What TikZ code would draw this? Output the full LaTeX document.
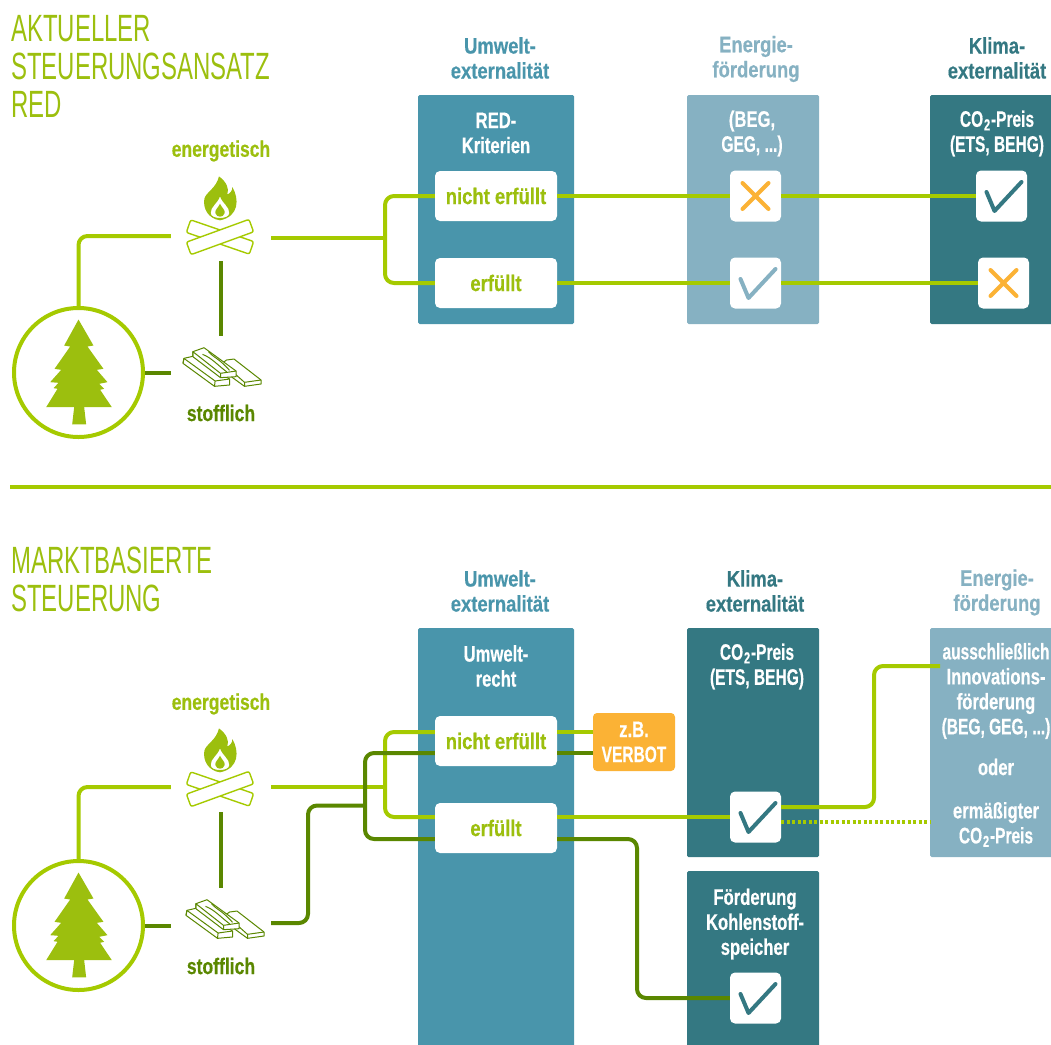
\documentclass[tikz,border=0pt]{standalone}
\usepackage{fontspec}
\setmainfont{Liberation Sans}[FakeStretch=0.82,BoldFeatures={FakeStretch=0.82,FakeBold=0.4}]
\newfontfamily\labelfont{Liberation Sans}[FakeStretch=0.78,BoldFeatures={FakeStretch=0.78,FakeBold=0.4}]
\newfontfamily\boxfont{Liberation Sans}[FakeStretch=0.74,BoldFeatures={FakeStretch=0.74,FakeBold=0.4}]
\newfontfamily\capsfont{Liberation Sans}[FakeStretch=0.69,BoldFeatures={FakeStretch=0.69,FakeBold=0.4}]
\newfontfamily\titlefont{Liberation Sans}[FakeStretch=0.63]
\usetikzlibrary{positioning,calc}
\definecolor{lime}{HTML}{A5CA00}
\definecolor{limetext}{HTML}{9CBF0E}
\definecolor{leaf}{HTML}{5A8700}
\definecolor{umwelt}{HTML}{4995AB}
\definecolor{energie}{HTML}{86B1C2}
\definecolor{klima}{HTML}{347882}
\definecolor{warn}{HTML}{FBB235}
\newcommand{\cotwo}{{\capsfont CO\kern.8pt\raisebox{-.3ex}{\fontsize{16}{16}\selectfont 2}\kern.8pt-Preis}}
\tikzset{
 title/.style={anchor=north west, inner sep=0, align=left, text=limetext, font=\titlefont\fontsize{38}{38}\selectfont},
 head/.style={align=center, inner sep=0, font=\fontsize{22.5}{25}\bfseries\selectfont},
 sublabel/.style={head, font=\labelfont\fontsize{22.5}{25}\bfseries\selectfont},
 boxtext/.style={head, text=white, font=\boxfont\fontsize{22.5}{25}\bfseries\selectfont},
 colbox/.style={fill=#1, rounded corners=1.5pt, inner sep=0, minimum width=132},
 whitebox/.style={fill=white, rounded corners=5pt, inner sep=0, minimum width=122, minimum height=50, text=limetext, font=\fontsize{22.5}{25}\bfseries\selectfont},
 markbox/.style={fill=white, rounded corners=5pt, inner sep=0, minimum size=51},
 iconbox/.style={inner sep=0, minimum width=100},
 lw/.style={line width=4pt, rounded corners=9pt},
 limeline/.style={lw, draw=lime},
 leafline/.style={lw, draw=leaf},
 pics/tick/.style={code={\draw[#1, line width=4pt, line cap=round, line join=round] (-15,-4)--(-7,15)--(20,-14);}},
 pics/cross/.style={code={\draw[warn, line width=4pt, line cap=round] (-13,-13)--(13,13) (-13,13)--(13,-13);}},
 pics/fir/.style={code={\fill[limetext, scale=0.333] (0,-159)--(45,-81)--(27,-78)--(75,-11)--(55,-8)--(87,29)--(62,34)--(77,49)--(65,52)--(100,104)--(17,104)--(23,156)--(-19,156)--(-13,104)--(-97,104)--(-63,49)--(-75,47)--(-60,31)--(-85,29)--(-52,-8)--(-72,-11)--(-25,-78)--(-43,-81)--cycle;}},
 pics/campfire/.style={code={\begin{scope}[scale=0.333]
  \filldraw[fill=white, draw=lime, line width=1.4pt, rounded corners=2pt, rotate=-19] (-100,-20) rectangle (100,20);
  \filldraw[fill=white, draw=lime, line width=1.4pt, rounded corners=2pt, rotate=20] (-100,-20) rectangle (100,20);
  \fill[limetext, even odd rule] (0,-50) .. controls (-35,-55) and (-52,-85) .. (-47,-115) .. controls (-42,-135) and (-12,-145) .. (-3,-182) .. controls (20,-165) and (28,-145) .. (22,-128) .. controls (30,-130) and (38,-140) .. (37,-150) .. controls (58,-115) and (58,-62) .. (0,-50) -- cycle
   (0,-122) .. controls (-8,-100) and (-28,-92) .. (-28,-72) .. controls (-28,-62) and (-15,-57) .. (0,-57) .. controls (15,-57) and (28,-62) .. (28,-72) .. controls (28,-92) and (8,-100) .. (0,-122) -- cycle
   (0,-100) .. controls (-5,-88) and (-16,-82) .. (-14,-72) .. controls (-13,-64) and (-5,-61) .. (0,-61) .. controls (5,-61) and (13,-64) .. (14,-72) .. controls (16,-82) and (5,-88) .. (0,-100) -- cycle;
 \end{scope}}},
 pics/boards/.style={code={\begin{scope}[xscale=0.3, yscale=0.333, fill=white, draw=leaf, line width=1pt, line join=round]
  \filldraw (-112,-50) -- (-78,-57) -- (40,12) -- (40,30) -- (-10,34) -- (-115,-35) -- cycle;
  \draw (-115,-35) -- (-112,-50) (-10,34) -- (-8,18) -- (40,12) (-112,-50) -- (-8,18);
  \filldraw (30,-45) -- (55,-48) -- (145,15) -- (145,27) -- (90,34) -- (0,-25) -- cycle;
  \draw (90,34) -- (90,22) -- (145,15) (15,-38) -- (90,22);
  \filldraw (-82,-70) -- (-45,-82) -- (62,-12) -- (62,5) -- (10,8) -- (-82,-55) -- cycle;
  \draw (-82,-55) -- (-82,-70) -- (10,-5) -- (10,8) (10,-5) -- (62,-12) (-50,-62) .. controls (-20,-52) and (0,-30) .. (30,-10) (-30,-70) .. controls (-10,-50) and (5,-50) .. (40,-14);
 \end{scope}}}
}
\begin{document}
\begin{tikzpicture}[x=1pt,y=-1pt,line join=round]
\useasboundingbox (0,0) rectangle (1051,1044);
\clip (0,0) rectangle (1051,1044);
% oberer Teil
\node[title] (titleA) at (11,15) {AKTUELLER\\STEUERUNGSANSATZ\\RED};
\node[head,text=umwelt] (headUmweltA) at (500,58) {Umwelt-\\externalität};
\node[head,text=energie] (headEnergieA) at (756,59) {Energie-\\förderung};
\node[head,text=klima] (headKlimaA) at (997,58) {Klima-\\externalität};
\node[colbox=umwelt,minimum width=156,minimum height=229] (umweltA) at (496,209.5) {};
\node[colbox=energie,minimum height=229] (energieA) at (753,209.5) {};
\node[colbox=klima,minimum height=229] (klimaA) at (996,209.5) {};
\node[boxtext] at (496,133) {RED-\\Kriterien};
\node[boxtext] at (752,133.5) {(BEG,\\{\capsfont GEG, ...)}};
\node[boxtext] at (997,133.5) {\cotwo\\{\capsfont(ETS, BEHG)}};
\node[whitebox] (nichtA) at (496,196) {nicht erfüllt};
\node[whitebox] (erfuelltA) at (496,283) {erfüllt};
\node[markbox] (energieAx) at (755.5,196) {};
\node[markbox] (energieAy) at (755.5,283) {};
\node[markbox] (klimaAy) at (1001.5,196) {};
\node[markbox] (klimaAx) at (1003.5,283) {};
\pic at (energieAx) {cross};
\pic at (energieAy) {tick=energie};
\pic at (klimaAy) {tick=klima};
\pic at (klimaAx) {cross};
\draw[limeline] (nichtA.east)--(energieAx.west) (energieAx.east)--(klimaAy.west);
\draw[limeline] (erfuelltA.east)--(energieAy.west) (energieAy.east)--(klimaAx.west);
\node[circle,draw=lime,line width=4pt,minimum size=129,inner sep=0] (treeA) at (78.5,372.5) {};
\pic at (treeA) {fir};
\node[iconbox,minimum height=50] (fireA) at (221,236) {};
\pic at (220,237) {campfire};
\node[iconbox,minimum height=56] (plankA) at (221,364) {};
\pic at (217.5,375) {boards};
\node[sublabel,text=limetext] (labelFireA) at (221,151) {energetisch};
\node[sublabel,text=leaf] (labelPlankA) at (221,413) {stofflich};
\coordinate (splitA) at (385,238);
\draw[limeline] (treeA.north)|-(fireA.west);
\draw[limeline] (fireA.east|-splitA)--(splitA);
\draw[limeline] (nichtA.west)-|(splitA)|-(erfuelltA.west);
\draw[leafline] (fireA.south)--(plankA.north);
\draw[leafline] (treeA.east)--(plankA.west|-treeA.east);
% Trennlinie
\coordinate (ruleL) at (10,487);
\coordinate (ruleR) at (1051,487);
\draw[line width=4pt,lime] (ruleL)--(ruleR);
% unterer Teil
\node[title] (titleB) at (11,547) {MARKTBASIERTE\\STEUERUNG};
\node[head,text=umwelt] (headUmweltB) at (500,591) {Umwelt-\\externalität};
\node[head,text=klima] (headKlimaB) at (755,591) {Klima-\\externalität};
\node[head,text=energie] (headEnergieB) at (997,592.5) {Energie-\\förderung};
\node[colbox=umwelt,minimum width=156,minimum height=420] (umweltB) at (496,838) {};
\node[colbox=klima,minimum height=229] (klimaB) at (753,742.5) {};
\node[colbox=klima,minimum height=176] (foerderB) at (753,959) {};
\node[colbox=energie,minimum height=229] (energieB) at (996,742.5) {};
\node[boxtext] at (496,666) {Umwelt-\\recht};
\node[boxtext] at (757,666.5) {\cotwo\\{\capsfont(ETS, BEHG)}};
\node[boxtext] at (755,924) {Förderung\\Kohlenstoff-\\speicher};
\node[boxtext] (ausschl) at (996,691) {{\capsfont ausschließlich}\\Innovations-\\förderung\\{\capsfont(BEG, GEG, ...)}};
\node[boxtext] at (996,767) {oder};
\node[boxtext] at (996,824.5) {ermäßigter\\\cotwo};
\node[whitebox] (nichtB) at (496,741) {nicht erfüllt};
\node[whitebox] (erfuelltB) at (496,828) {erfüllt};
\node[fill=warn,rounded corners=4pt,inner sep=0,minimum width=82,minimum height=58,text=white,boxtext] (verbot) at (634,742) {z.B.\\{\capsfont VERBOT}};
\node[markbox] (klimaBy) at (755.5,817) {};
\node[markbox] (foerderBy) at (755.5,998) {};
\pic at (klimaBy) {tick=klima};
\pic at (foerderBy) {tick=klima};
\node[circle,draw=lime,line width=4pt,minimum size=129,inner sep=0] (treeB) at (78.5,925.5) {};
\pic at (treeB) {fir};
\node[iconbox,minimum height=50] (fireB) at (221,787) {};
\pic at (220,789) {campfire};
\node[iconbox,minimum height=54] (plankB) at (221,915) {};
\pic at (220.5,927) {boards};
\node[sublabel,text=limetext] (labelFireB) at (221,704) {energetisch};
\node[sublabel,text=leaf] (labelPlankB) at (221,966) {stofflich};
\coordinate (splitLime) at (385,787);
\coordinate (splitLeaf) at (365,805.5);
\coordinate (plankOut) at (271,923);
\coordinate (bendLeaf) at (308,923);
\coordinate (rowA) at (0,732);
\coordinate (rowB) at (0,753);
\coordinate (rowC) at (0,817);
\coordinate (rowD) at (0,839);
\coordinate (bendUp) at (874,807);
\coordinate (rowTop) at (940,666);
\coordinate (bendDown) at (637,839);
\coordinate (dotted) at (781,822);
\draw[leafline] (treeB.east)--(plankB.west|-treeB.east);
\draw[leafline] (fireB.south)--(plankB.north);
\draw[limeline] (treeB.north)|-(fireB.west);
\draw[limeline] (fireB.east)--(splitLime);
\draw[limeline] (rowA-|nichtB.west)-|(splitLime)|-(rowC-|erfuelltB.west);
\draw[leafline] (plankOut)-|(bendLeaf|-splitLeaf)--(splitLeaf);
\draw[leafline] (rowB-|nichtB.west)-|(splitLeaf)|-(rowD-|erfuelltB.west);
\draw[limeline] (rowA-|nichtB.east)--(rowA-|verbot.west);
\draw[leafline] (rowB-|nichtB.east)--(rowB-|verbot.west);
\draw[limeline] (rowC-|erfuelltB.east)--(rowC-|klimaBy.west);
\draw[leafline] (rowD-|erfuelltB.east)-|(bendDown|-foerderBy.west)--(foerderBy.west);
\draw[limeline] (bendUp-|klimaBy.east)-|(bendUp|-rowTop)--(rowTop);
\draw[lime,line width=4pt,dash pattern=on 3pt off 2.5pt] (dotted)--(dotted-|energieB.west);
\end{tikzpicture}
\end{document}
